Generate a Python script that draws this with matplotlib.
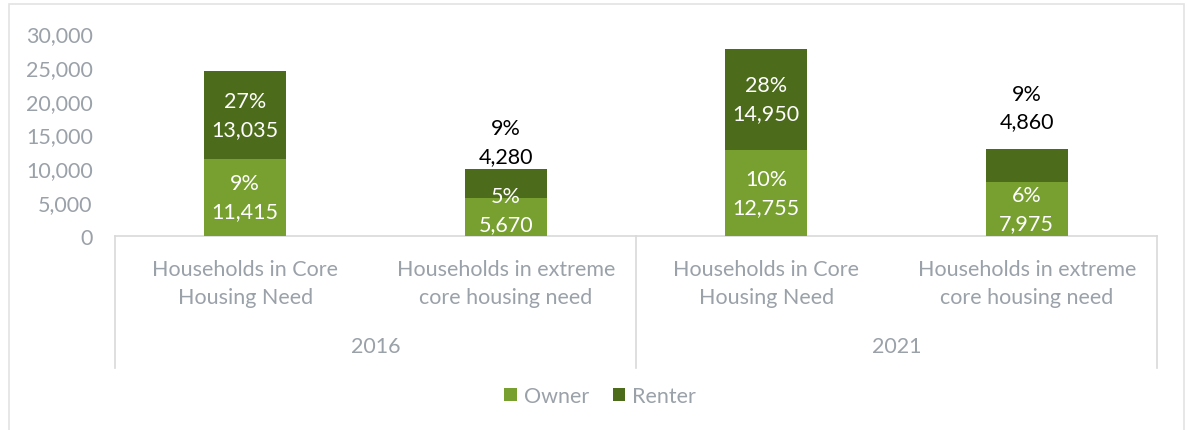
import matplotlib.pyplot as plt
from matplotlib.patches import Rectangle
from matplotlib.lines import Line2D
from matplotlib.transforms import blended_transform_factory

# data
categories = ["Households in Core\nHousing Need", "Households in extreme\ncore housing need",
              "Households in Core\nHousing Need", "Households in extreme\ncore housing need"]
years = ["2016", "2021"]
owner = [11415, 5670, 12755, 7975]
renter = [13035, 4280, 14950, 4860]
owner_pct = [9, 5, 10, 6]
renter_pct = [27, 9, 28, 9]

c_owner = "#77a031"
c_renter = "#4c6c1b"
c_text = "#9aa1a9"
c_line = "#d9d9d9"
fs = 15.5

plt.rcParams['font.family'] = ['Lato', 'DejaVu Sans']

W, H = 1188, 431
fig = plt.figure(figsize=(W / 100, H / 100), dpi=100)

def fx(px):
    return px / W

def fy(py):
    return 1 - py / H

# outer border
fig.patches.append(Rectangle((fx(9), fy(445)), fx(1184) - fx(9), fy(5) - fy(445),
                             transform=fig.transFigure, fill=False, edgecolor="#e3e3e3", lw=1.2))

ax = fig.add_axes([fx(115), fy(237), fx(1157) - fx(115), fy(34) - fy(237)])
x = list(range(len(categories)))
bw = 0.315
ax.bar(x, owner, bw, color=c_owner, label="Owner", zorder=3)
ax.bar(x, renter, bw, bottom=owner, color=c_renter, label="Renter", zorder=3)

ax.set_xlim(-0.5, 3.5)
ax.set_ylim(0, 30000)
ax.set_yticks(range(0, 30001, 5000))
ax.set_yticklabels([f"{v:,}" for v in range(0, 30001, 5000)])
ax.tick_params(axis='y', length=0, pad=16, labelsize=fs, labelcolor=c_text)
ax.set_xticks([])
for s in ["top", "right", "left"]:
    ax.spines[s].set_visible(False)
ax.spines["bottom"].set_color(c_line)
ax.spines["bottom"].set_linewidth(1.2)

# data labels (small renter parts get their label above the bar, hand placed like the original)
gap_above = {1: 450, 3: 2600}
for i in x:
    if owner[i] > 7000:
        ax.text(i, owner[i] / 2, f"{owner_pct[i]}%\n{owner[i]:,}", ha="center", va="center",
                color="white", fontsize=fs, linespacing=1.5, zorder=4)
    else:
        ax.text(i, 350, f"{owner_pct[i]}%\n{owner[i]:,}", ha="center", va="bottom",
                color="white", fontsize=fs, linespacing=1.5, zorder=4)
    if renter[i] > 6000:
        ax.text(i, owner[i] + renter[i] / 2, f"{renter_pct[i]}%\n{renter[i]:,}", ha="center",
                va="center", color="white", fontsize=fs, linespacing=1.5, zorder=4)
    else:
        ax.text(i, owner[i] + renter[i] + gap_above.get(i, 900), f"{renter_pct[i]}%\n{renter[i]:,}",
                ha="center", va="bottom", color="black", fontsize=fs, linespacing=1.5, zorder=4)

# multi-level category axis
tr = blended_transform_factory(ax.transData, fig.transFigure)
for i, lab in enumerate(categories):
    ax.text(i, fy(284), lab, transform=tr, ha="center", va="center", color=c_text,
            fontsize=fs, linespacing=1.45)
for j, yr in enumerate(years):
    ax.text(2 * j + 0.5, fy(347), yr, transform=tr, ha="center", va="center",
            color=c_text, fontsize=fs)
for xv in [-0.5, 1.5, 3.5]:
    ax.add_line(Line2D([xv, xv], [fy(237), fy(369)], transform=tr, color=c_line,
                       lw=1.2, clip_on=False))

fig.legend(loc="center", bbox_to_anchor=(fx(600), fy(397)), ncol=2, frameon=False,
           handlelength=0.6, handleheight=0.6, handletextpad=0.3, columnspacing=1.1,
           fontsize=fs, labelcolor=c_text)

fig.savefig("out.png", dpi=100)
